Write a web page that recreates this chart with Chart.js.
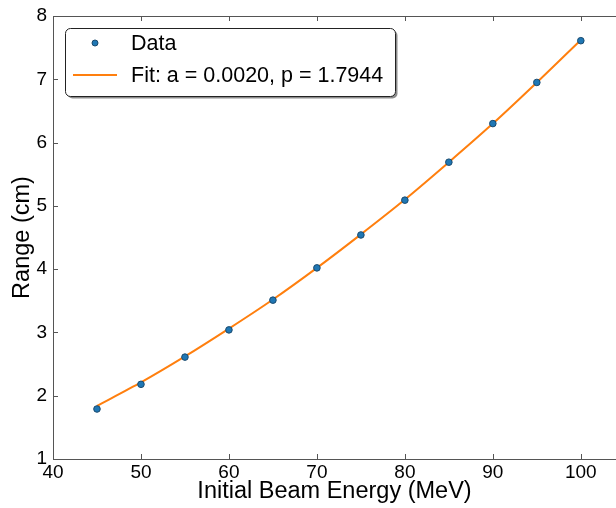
<!DOCTYPE html>
<html>
<head>
<meta charset="utf-8">
<script src="https://cdn.jsdelivr.net/npm/chart.js@4.4.1/dist/chart.umd.min.js"></script>
<style>
  html, body { margin: 0; padding: 0; background: #fff; overflow: hidden; }
  #wrap { position: relative; width: 616px; height: 508px; }
</style>
</head>
<body>
<div id="wrap"><canvas id="chart" width="616" height="508"></canvas></div>
<script>
/* -------- data -------- */
const energies = [45, 50, 55, 60, 65, 70, 75, 80, 85, 90, 95, 100];
const ranges   = [1.79, 2.18, 2.61, 3.04, 3.51, 4.02, 4.54, 5.09, 5.69, 6.30, 6.95, 7.61];
const fitRange = [1.84, 2.21, 2.62, 3.06, 3.52, 4.02, 4.55, 5.10, 5.69, 6.30, 6.95, 7.62];
const xTicks = [40, 50, 60, 70, 80, 90, 100];
const yTicks = [1, 2, 3, 4, 5, 6, 7, 8];

const dataLabel = "Data";
const fitLabel = "Fit: a = 0.0020, p = 1.7944";

const FONT = "'Liberation Sans', Arial, Helvetica, sans-serif";
const BLUE = "#1f77b4";
const ORANGE = "#ff7f0e";
const AXIS = "#555";

const noPad = () => ({ left: 0, top: 0, right: 0, bottom: 0 });

/* ---------- inward ticks, top frame, legend box ---------- */
const frameAndLegend = {
  id: "frameAndLegend",
  afterDraw(chart) {
    const { ctx, chartArea: a, scales } = chart;
    ctx.save();
    ctx.strokeStyle = AXIS;
    ctx.lineWidth = 1;
    // top border
    ctx.beginPath();
    ctx.moveTo(a.left, a.top + 0.5);
    ctx.lineTo(a.right + 2, a.top + 0.5);
    ctx.stroke();
    // ticks pointing inward
    ctx.beginPath();
    for (const v of xTicks) {
      const x = Math.round(scales.x.getPixelForValue(v)) + 0.5;
      ctx.moveTo(x, a.bottom); ctx.lineTo(x, a.bottom - 5);
      ctx.moveTo(x, a.top); ctx.lineTo(x, a.top + 5);
    }
    for (const v of yTicks) {
      const y = Math.round(scales.y.getPixelForValue(v)) + 0.5;
      ctx.moveTo(a.left, y); ctx.lineTo(a.left + 5, y);
    }
    ctx.stroke();

    // legend box
    const bx = 65, by = 28, bw = 330, bh = 68, r = 5;
    const rr = (x, y) => {
      ctx.beginPath();
      ctx.roundRect(x, y, bw, bh, r);
    };
    ctx.fillStyle = "rgba(0,0,0,0.45)";
    rr(bx + 2.5, by + 2.5); ctx.fill();
    ctx.fillStyle = "#fff";
    rr(bx + 0.5, by + 0.5); ctx.fill();
    ctx.strokeStyle = "#222";
    ctx.stroke();

    // entries
    ctx.fillStyle = BLUE;
    ctx.strokeStyle = "#1a4a6e";
    ctx.beginPath();
    ctx.arc(95, 43, 3, 0, Math.PI * 2);
    ctx.fill(); ctx.stroke();
    ctx.strokeStyle = ORANGE;
    ctx.lineWidth = 2;
    ctx.beginPath();
    ctx.moveTo(73, 75); ctx.lineTo(117, 75);
    ctx.stroke();

    ctx.fillStyle = "#000";
    ctx.font = "21.5px " + FONT;
    ctx.textBaseline = "middle";
    ctx.textAlign = "left";
    ctx.fillText(dataLabel, 131, 44);
    ctx.fillText(fitLabel, 131, 76);
    ctx.restore();
  }
};

new Chart(document.getElementById("chart"), {
  type: "scatter",
  data: {
    datasets: [
      {
        label: fitLabel,
        type: "line",
        data: energies.map((e, i) => ({ x: e, y: fitRange[i] })),
        borderColor: ORANGE,
        borderWidth: 2,
        pointRadius: 0,
        tension: 0.25,
        fill: false,
        order: 2
      },
      {
        label: dataLabel,
        data: energies.map((e, i) => ({ x: e, y: ranges[i] })),
        backgroundColor: BLUE,
        borderColor: "#1a4a6e",
        borderWidth: 1,
        pointRadius: 3.3,
        order: 1
      }
    ]
  },
  options: {
    responsive: false,
    animation: false,
    layout: { autoPadding: false, padding: { top: 16, right: 0, left: 0, bottom: 0 } },
    plugins: { legend: { display: false }, tooltip: { enabled: false } },
    scales: {
      x: {
        type: "linear",
        min: 40, max: 104,
        afterFit: s => { s.height = 49; s.getPadding = noPad; },
        afterBuildTicks: s => { s.ticks = xTicks.map(v => ({ value: v })); },
        grid: { display: false, drawTicks: false, tickLength: 0 },
        border: { display: true, color: AXIS },
        ticks: { color: "#000", padding: 2, font: { family: FONT, size: 19 } },
        title: { display: true, text: "Initial Beam Energy (MeV)", color: "#000",
                 padding: { top: 0, bottom: 2 }, font: { family: FONT, size: 23.5 } }
      },
      y: {
        min: 1, max: 8,
        afterFit: s => { s.width = 53; s.getPadding = noPad; },
        afterBuildTicks: s => { s.ticks = yTicks.map(v => ({ value: v })); },
        grid: { display: false, drawTicks: false, tickLength: 0 },
        border: { display: true, color: AXIS },
        ticks: { color: "#000", padding: 6, font: { family: FONT, size: 19 } },
        title: { display: true, text: "Range (cm)", color: "#000",
                 padding: { top: 8, bottom: 0 }, font: { family: FONT, size: 23.5 } }
      }
    }
  },
  plugins: [frameAndLegend]
});
</script>
</body>
</html>
